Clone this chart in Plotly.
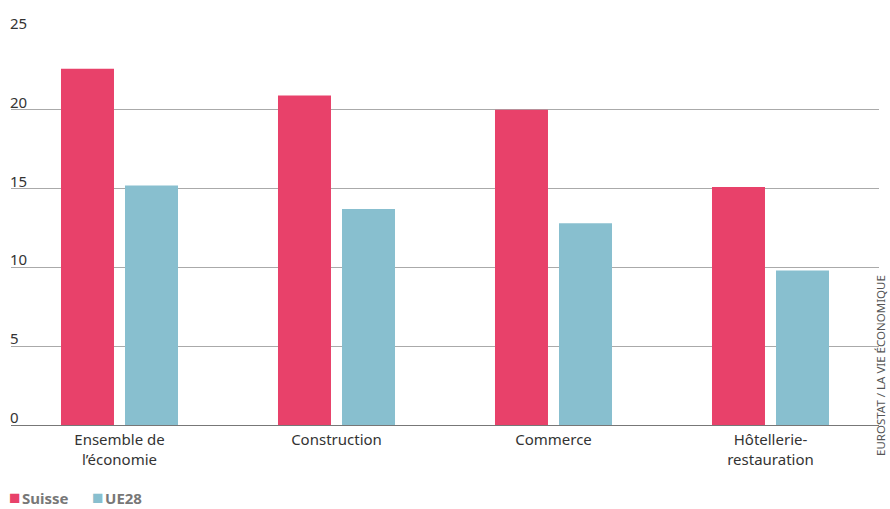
import plotly.graph_objects as go

categories = ["Ensemble de<br>l’économie", "Construction", "Commerce", "Hôtellerie-<br>restauration"]
suisse = [22.6, 20.9, 20.0, 15.1]
ue28 = [15.2, 13.7, 12.8, 9.8]
series_names = ["Suisse", "UE28"]
colors = ["#E8416A", "#88BFCF"]
y_ticks = [0, 5, 10, 15, 20, 25]
source = "EUROSTAT / LA VIE ÉCONOMIQUE"

FONT = "Noto Sans"

fig = go.Figure()
for name, vals, col in zip(series_names, [suisse, ue28], colors):
    fig.add_trace(go.Bar(x=categories, y=vals, name=name, marker=dict(color=col, line=dict(width=0)),
                         showlegend=False))

annotations = []
for t in y_ticks:
    annotations.append(dict(x=0, xref="paper", y=t, yref="y", text=str(t), showarrow=False,
                            xanchor="left", yanchor="bottom", xshift=-3, yshift=-4,
                            font=dict(family=FONT, size=15, color="#333")))
# custom legend
leg_x = [-4, 79]
for name, col, lx in zip(series_names, colors, leg_x):
    annotations.append(dict(x=0, xref="paper", y=0, yref="paper", xshift=lx, yshift=-72,
                            xanchor="left", yanchor="middle", showarrow=False,
                            text=f"<span style='color:{col};font-size:19px'>■</span><span style='font-size:6px'> </span><b>{name}</b>",
                            font=dict(family=FONT, size=15, color="#777")))
annotations.append(dict(x=1, xref="paper", y=0, yref="paper", xshift=11, yshift=-33,
                        xanchor="right", yanchor="bottom", textangle=-90, showarrow=False,
                        text=source, font=dict(family=FONT, size=11.5, color="#555")))

fig.update_layout(
    width=890, height=509,
    margin=dict(l=11, r=11, t=31, b=84),
    plot_bgcolor="white", paper_bgcolor="white",
    barmode="group", bargap=0.41, bargroupgap=0.172,
    font=dict(family=FONT, size=15, color="#333"),
    xaxis=dict(showgrid=False, showline=False, ticks="", tickfont=dict(size=15, color="#333"),
               ticklabelstandoff=4),
    yaxis=dict(range=[0, 25], tickvals=y_ticks, showticklabels=False, showgrid=True,
               gridcolor="#aaa", gridwidth=1.3, zeroline=True, zerolinecolor="#777",
               zerolinewidth=1.3, showline=False, fixedrange=True),
    annotations=annotations,
)
fig.write_html("out.html")
